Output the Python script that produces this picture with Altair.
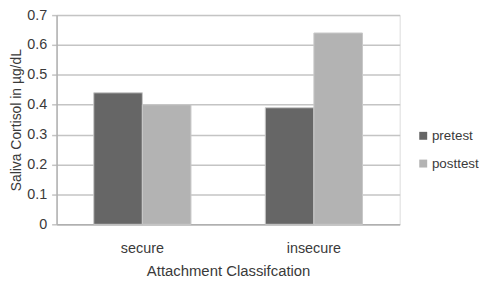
import altair as alt
import pandas as pd

categories = ["secure", "secure", "insecure", "insecure"]
series = ["pretest", "posttest", "pretest", "posttest"]
values = [0.44, 0.40, 0.39, 0.64]

df = pd.DataFrame({"cat": categories, "series": series, "value": values})

FONT = "Liberation Sans"
TXT = "#3a3a3a"

chart = alt.Chart(df).mark_bar(stroke="#c8c8c8", strokeWidth=1).encode(
    x=alt.X("cat:N", sort=["secure", "insecure"],
            scale=alt.Scale(paddingInner=0, paddingOuter=0),
            axis=alt.Axis(title="Attachment Classifcation", labelAngle=0,
                          ticks=False, domainColor="#b0b0b0", domainWidth=1.5,
                          labelFontSize=14.5, labelColor=TXT, labelPadding=17,
                          titleFontSize=15, titleColor=TXT, titleFontWeight="normal",
                          titlePadding=9, labelFont=FONT, titleFont=FONT)),
    xOffset=alt.XOffset("series:N", sort=["pretest", "posttest"],
                        scale=alt.Scale(paddingInner=0, paddingOuter=0.765)),
    y=alt.Y("value:Q",
            scale=alt.Scale(domain=[0, 0.7], nice=False),
            axis=alt.Axis(title="Saliva Cortisol in µg/dL", values=[0, 0.1, 0.2, 0.3, 0.4, 0.5, 0.6, 0.7],
                          format="~g", gridColor="#c4c4c4", gridWidth=1.5,
                          domainColor="#b0b0b0", domainWidth=1.5, tickColor="#c4c4c4",
                          tickSize=5, tickWidth=1.5, labelFontSize=14.5, labelColor=TXT,
                          labelPadding=5, titleFontSize=14, titleColor=TXT,
                          titleFontWeight="normal", titlePadding=3,
                          labelFont=FONT, titleFont=FONT)),
    color=alt.Color("series:N", sort=["pretest", "posttest"],
                    scale=alt.Scale(domain=["pretest", "posttest"], range=["#666666", "#b3b3b3"]),
                    legend=alt.Legend(title=None, orient="none", legendX=363, legendY=115,
                                      symbolType="square", symbolSize=64, symbolStrokeWidth=0,
                                      labelFontSize=13.5, labelColor=TXT, labelFont=FONT,
                                      rowPadding=13, labelOffset=2)),
).properties(
    width=346, height=211,
    autosize=alt.AutoSizeParams(type="none"),
    padding={"left": 49, "top": 6, "right": 80, "bottom": 53},
).configure_view(stroke=None).configure(background="white")

chart.save("out.html", embed_options={"renderer": "svg", "actions": False})
